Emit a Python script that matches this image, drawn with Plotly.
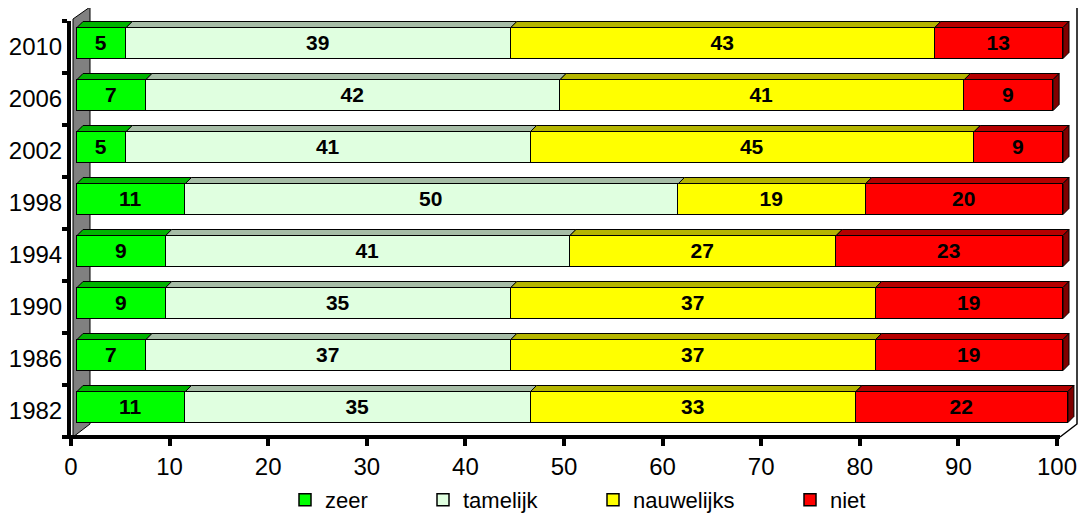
import plotly.graph_objects as go

# ---- data ----
years = ["1982", "1986", "1990", "1994", "1998", "2002", "2006", "2010"]
zeer = [11, 7, 9, 9, 11, 5, 7, 5]
tamelijk = [35, 37, 35, 41, 50, 41, 42, 39]
nauwelijks = [33, 37, 37, 27, 19, 45, 41, 43]
niet = [21.5, 19, 19, 23, 20, 9, 9, 13]
series_names = ["zeer", "tamelijk", "nauwelijks", "niet"]
x_ticks = [0, 10, 20, 30, 40, 50, 60, 70, 80, 90, 100]

series_values = [zeer, tamelijk, nauwelijks, niet]
front_colors = ["#00FF00", "#E0FFE0", "#FFFF00", "#FF0000"]
top_colors = ["#00B400", "#A6BCA6", "#B4B400", "#B40000"]
side_color = "#800000"

FONT = "Liberation Sans, Arial, sans-serif"

# ---- geometry (page pixels; the page body adds an 8px offset) ----
OFF = 8
W, H = 1089 - OFF, 517 - OFF
L, R, T, B = 71, 1080, 21, 437          # plot area in page pixels
PXU = 9.86            # px per x unit
PYU = (B - T) / 8.0   # px per category
shift_x = 6 / PXU     # 3D offset of the bars
shift_y = 4 / PYU
depth_x = 6 / PXU
depth_y = 6 / PYU
bar_w = 31 / PYU

xmax = (R - L) / PXU


def px(x):
    return (x - L) / (R - L)


def py(y):
    return (B - y) / (B - T)


fig = go.Figure()

# invisible trace to anchor the tick axes
fig.add_trace(go.Scatter(x=[0, 100], y=[-0.5, 7.5], mode="markers",
                         marker=dict(opacity=0), showlegend=False,
                         hoverinfo="skip", xaxis="x", yaxis="y"))

legend_ids = ["legend", "legend2", "legend3", "legend4"]
legend_left_px = [285, 423, 593, 790]

idx = list(range(len(years)))
for name, vals, col, lg in zip(series_names, series_values, front_colors,
                               legend_ids):
    fig.add_trace(go.Bar(
        y=idx, x=vals, orientation="h", name=name, legend=lg,
        xaxis="x2", yaxis="y2", width=bar_w,
        marker=dict(color=col, line=dict(color="black", width=1.5)),
        texttemplate="%{x:.0f}", textposition="inside",
        insidetextanchor="middle", textangle=0, constraintext="none",
        textfont=dict(family=FONT, size=21, color="black", weight="bold"),
        cliponaxis=False, hoverinfo="skip",
    ))

shapes = []
# 3D top faces and right side
for i in idx:
    c0 = 0.0
    yt = i + bar_w / 2
    yb = i - bar_w / 2
    for k, vals in enumerate(series_values):
        x0, x1 = c0, c0 + vals[i]
        path = (f"M {x0},{yt} L {x1},{yt} L {x1 + depth_x},{yt + depth_y} "
                f"L {x0 + depth_x},{yt + depth_y} Z")
        shapes.append(dict(type="path", path=path, xref="x2", yref="y2",
                           fillcolor=top_colors[k],
                           line=dict(color="black", width=1), layer="above"))
        c0 = x1
    path = (f"M {c0},{yb} L {c0},{yt} L {c0 + depth_x},{yt + depth_y} "
            f"L {c0 + depth_x},{yb + depth_y} Z")
    shapes.append(dict(type="path", path=path, xref="x2", yref="y2",
                       fillcolor=side_color,
                       line=dict(color="black", width=1), layer="above"))

# side wall
shapes.append(dict(type="path", xref="paper", yref="paper",
                   path=(f"M {px(73)},{py(437)} L {px(73)},{py(19)} "
                         f"L {px(90)},{py(7)} L {px(90)},{py(424)} Z"),
                   fillcolor="#808080", line=dict(color="black", width=1),
                   layer="below"))
# back frame
shapes.append(dict(type="path", xref="paper", yref="paper",
                   path=(f"M {px(90)},{py(7)} L {px(1077)},{py(7)} "
                         f"L {px(1077)},{py(424)} L {px(1060)},{py(437)}"),
                   line=dict(color="black", width=1.5), layer="below"))
# x axis line
shapes.append(dict(type="line", xref="paper", yref="paper",
                   x0=px(67), x1=px(1060), y0=py(437), y1=py(437),
                   line=dict(color="black", width=4), layer="above"))

legend_style = dict(orientation="h", y=py(500), xanchor="left",
                    yanchor="middle", font=dict(family=FONT, size=22,
                                                color="black"),
                    bgcolor="rgba(0,0,0,0)", borderwidth=0)
legends = {}
for lg, lx in zip(legend_ids, legend_left_px):
    legends[lg] = dict(legend_style, x=px(lx))

fig.update_layout(
    template="none",
    width=W, height=H,
    margin=dict(l=L - OFF, r=W - (R - OFF), t=T - OFF, b=H - (B - OFF),
                pad=0, autoexpand=False),
    paper_bgcolor="white", plot_bgcolor="rgba(0,0,0,0)",
    barmode="stack", bargap=0,
    font=dict(family=FONT, color="black"),
    showlegend=True,
    xaxis=dict(range=[0, xmax], tickmode="array", tickvals=x_ticks,
               ticktext=[str(t) for t in x_ticks], automargin=False,
               ticks="outside", ticklen=8, tickwidth=4, tickcolor="black",
               showline=False, showgrid=False, zeroline=False,
               tickfont=dict(family=FONT, size=24, color="black")),
    yaxis=dict(range=[-0.5, 7.5], tickmode="array", tickvals=idx,
               ticktext=years, ticks="", showline=True, linewidth=4,
               linecolor="black", showgrid=False, zeroline=False,
               automargin=False,
               minor=dict(tickmode="array",
                          tickvals=[v - 0.5 for v in range(len(years) + 1)],
                          ticks="outside", ticklen=5, tickwidth=4,
                          tickcolor="black", showgrid=False),
               tickfont=dict(family=FONT, size=24, color="black")),
    xaxis2=dict(overlaying="x", range=[-shift_x, xmax - shift_x],
                visible=False, fixedrange=True),
    yaxis2=dict(overlaying="y", range=[-0.5 - shift_y, 7.5 - shift_y],
                visible=False, fixedrange=True),
    shapes=shapes,
    **legends,
)

fig.write_html("out.html")
